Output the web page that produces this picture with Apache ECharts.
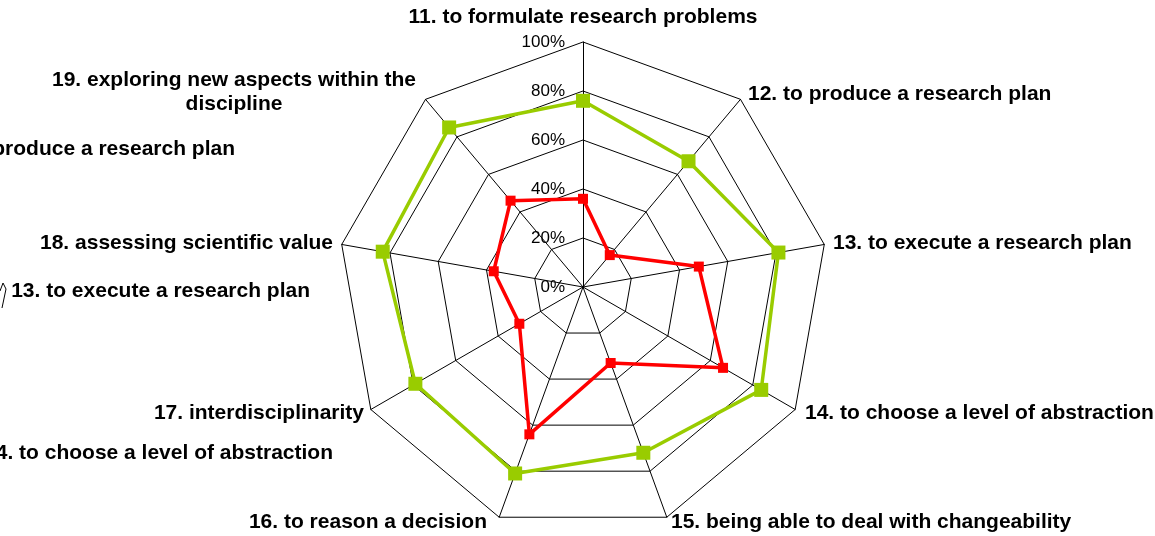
<!DOCTYPE html>
<html>
<head>
<meta charset="utf-8">
<script src="https://cdn.jsdelivr.net/npm/echarts@6/dist/echarts.min.js"></script>
<style>html,body{margin:0;padding:0;background:#fff;}#c{width:1155px;height:536px;}</style>
</head>
<body>
<div id="c"></div>
<script>
var categories = [
  "11. to formulate research problems",
  "12. to produce a research plan",
  "13. to execute a research plan",
  "14. to choose a level of abstraction",
  "15. being able to deal with changeability",
  "16. to reason a decision",
  "17. interdisciplinarity",
  "18. assessing scientific value",
  "19. exploring new aspects within the\ndiscipline"
];
var greenValues = [76, 67, 81, 84, 72, 81, 79, 83, 85];
var redValues = [36, 17, 48, 66, 33, 64, 30, 37, 46];
var tickValues = [0, 20, 40, 60, 80, 100];
var strayLabels = ["produce a research plan", "13. to execute a research plan", "4. to choose a level of abstraction"];

// ECharts radar runs counter-clockwise; reorder so the categories run clockwise
function clockwise(arr) { return [arr[0]].concat(arr.slice(1).reverse()); }

var FONT = 'bold 21px "Liberation Sans", Arial, sans-serif';
// label layout: [x, y, align]
var labelPos = [
  [583, 17, 'center'],
  [748, 94, 'left'],
  [833, 243, 'left'],
  [805, 413, 'left'],
  [671, 522, 'left'],
  [487, 522, 'right'],
  [364, 413, 'right'],
  [333, 243, 'right'],
  [234, 92, 'center']
];
var strayPos = [[235, 149], [310, 291], [333, 453]];

var graphics = [];
categories.forEach(function (c, i) {
  var p = labelPos[i];
  graphics.push({type: 'text', x: p[0], y: p[1], silent: true,
    style: {text: c, font: FONT, fill: '#000', textAlign: p[2], textVerticalAlign: 'middle', lineHeight: 24}});
});
strayLabels.forEach(function (c, i) {
  var p = strayPos[i];
  graphics.push({type: 'text', x: p[0], y: p[1], silent: true,
    style: {text: c, font: FONT, fill: '#000', textAlign: 'right', textVerticalAlign: 'middle'}});
});
graphics.push({type: 'polyline', silent: true, shape: {points: [[0, 291], [3, 283], [6, 289], [2, 308]]},
  style: {stroke: '#000', lineWidth: 1, fill: null}});

var chart = echarts.init(document.getElementById('c'), null, {renderer: 'canvas'});
chart.setOption({
  animation: false,
  backgroundColor: '#fff',
  radar: {
    center: [583, 287],
    radius: 245,
    startAngle: 90,
    shape: 'polygon',
    splitNumber: 5,
    indicator: clockwise(categories).map(function (c) { return {name: c, min: 0, max: 100}; }),
    axisName: {show: false},
    axisLine: {lineStyle: {color: '#000', width: 1}},
    splitLine: {lineStyle: {color: '#000', width: 1}},
    splitArea: {show: false},
    axisTick: {show: false},
    axisLabel: {show: false}
  },
  grid: {left: 583, top: 42, width: 1, height: 245},
  xAxis: {type: 'value', show: false, min: 0, max: 1},
  yAxis: {
    type: 'value', min: tickValues[0], max: tickValues[tickValues.length - 1], interval: tickValues[1] - tickValues[0],
    axisLine: {show: false}, axisTick: {show: false}, splitLine: {show: false},
    axisLabel: {formatter: '{value}%', color: '#000', fontSize: 17, fontFamily: '"Liberation Sans", Arial, sans-serif', margin: 18}
  },
  series: [{
    type: 'radar',
    symbol: 'rect',
    data: [
      {value: clockwise(greenValues), symbolSize: 14,
        lineStyle: {color: '#99CC00', width: 3.5},
        itemStyle: {color: '#99CC00'}},
      {value: clockwise(redValues), symbolSize: 10,
        lineStyle: {color: '#FF0000', width: 3.5},
        itemStyle: {color: '#FF0000'}}
    ]
  }],
  graphic: graphics
});
</script>
</body>
</html>
